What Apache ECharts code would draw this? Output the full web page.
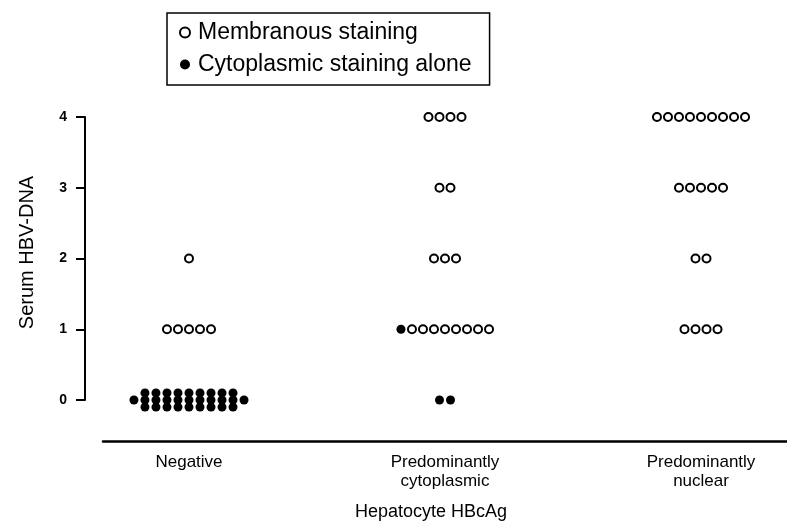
<!DOCTYPE html>
<html>
<head>
<meta charset="utf-8">
<script src="https://cdn.jsdelivr.net/npm/echarts@6/dist/echarts.min.js"></script>
<style>
html,body{margin:0;padding:0;background:#fff;}
#chart{width:787px;height:523px;}
</style>
</head>
<body>
<div id="chart"></div>
<script>
// ---- data ----
const categories = ['Negative', 'Predominantly\ncytoplasmic', 'Predominantly\nnuclear'];
const dnaLevels = [0, 1, 2, 3, 4];
const yTickLabels = ['0', '1', '2', '3', '4'];
// number of patients per category (rows) and serum HBV-DNA level (columns 0..4)
const membranousCounts = [
  [0, 5, 1, 0, 0],
  [0, 8, 3, 2, 4],
  [0, 4, 2, 5, 9]
];
const cytoplasmicAloneCounts = [
  [29, 0, 0, 0, 0],
  [2, 1, 0, 0, 0],
  [0, 0, 0, 0, 0]
];
const seriesNames = ['Membranous staining', 'Cytoplasmic staining alone'];

// ---- dot-plot layout (spread identical values side by side) ----
const DOT_STEP = 0.043;   // horizontal spacing, in category units
const ROW_STEP = 0.1;     // vertical spacing when a group wraps into rows
const MAX_ROW = 11;

const openPts = [], solidPts = [];
categories.forEach((c, ci) => {
  dnaLevels.forEach((lv, li) => {
    const nS = cytoplasmicAloneCounts[ci][li];
    const nO = membranousCounts[ci][li];
    const kinds = [];
    for (let i = 0; i < nS; i++) kinds.push('s');
    for (let i = 0; i < nO; i++) kinds.push('o');
    const total = kinds.length;
    if (!total) return;
    let rows;
    if (total <= MAX_ROW) rows = [{n: total, dy: 0}];
    else {
      const rest = total - MAX_ROW;
      const top = Math.ceil(rest / 2);
      rows = [{n: top, dy: ROW_STEP}, {n: MAX_ROW, dy: 0}, {n: rest - top, dy: -ROW_STEP}];
    }
    let k = 0;
    rows.forEach(r => {
      for (let j = 0; j < r.n; j++) {
        const x = ci + (j - (r.n - 1) / 2) * DOT_STEP;
        const pt = [x, lv + r.dy];
        (kinds[k++] === 's' ? solidPts : openPts).push(pt);
      }
    });
  });
});

const FONT = '"Liberation Sans", Arial, Helvetica, sans-serif';
const chart = echarts.init(document.getElementById('chart'));
chart.setOption({
  animation: false,
  backgroundColor: '#fff',
  textStyle: {fontFamily: FONT, color: '#000'},
  grid: {left: 103, right: 0, top: 117, height: 283, containLabel: false, outerBoundsMode: 'none'},
  legend: {
    orient: 'vertical',
    left: 167, top: 13,
    data: seriesNames,
    borderColor: '#000', borderWidth: 1.5,
    padding: [8, 18, 9, 12],
    itemGap: 9,
    itemWidth: 10, itemHeight: 10,
    textStyle: {fontSize: 23, color: '#000', fontFamily: FONT, padding: [0, 0, 0, 3]}
  },
  xAxis: {
    type: 'value',
    min: -0.3359, max: 2.3359,
    position: 'bottom',
    offset: 41,
    axisLine: {show: true, onZero: false, lineStyle: {color: '#000', width: 2.5}},
    axisTick: {show: false},
    splitLine: {show: false},
    axisLabel: {
      customValues: [0, 1, 2],
      formatter: v => (Number.isInteger(v) && categories[v] !== undefined) ? categories[v] : '',
      fontSize: 17, lineHeight: 19, margin: 12, color: '#000', fontFamily: FONT
    },
    name: 'Hepatocyte HBcAg',
    nameLocation: 'middle',
    nameGap: 62,
    nameTextStyle: {fontSize: 18, color: '#000', fontFamily: FONT, padding: [0, 28, 0, 0]}
  },
  yAxis: {
    type: 'value',
    min: 0, max: 4, interval: 1,
    offset: 18,
    axisLine: {show: true, onZero: false, lineStyle: {color: '#000', width: 2}},
    axisTick: {show: true, length: 9, lineStyle: {color: '#000', width: 2}},
    splitLine: {show: false},
    axisLabel: {
      formatter: v => yTickLabels[dnaLevels.indexOf(v)] ?? '',
      fontSize: 14, fontWeight: 'bold', margin: 18, color: '#000', fontFamily: FONT
    },
    name: 'Serum HBV-DNA',
    nameLocation: 'middle',
    nameGap: 48,
    nameTextStyle: {fontSize: 20, color: '#000', fontFamily: FONT, padding: [0, 0, 0, 12]}
  },
  series: [
    {
      name: seriesNames[0], type: 'scatter', clip: false,
      symbol: 'circle', symbolSize: 8,
      itemStyle: {color: '#fff', borderColor: '#000', borderWidth: 2, opacity: 1},
      data: openPts, z: 2
    },
    {
      name: seriesNames[1], type: 'scatter', clip: false,
      symbol: 'circle', symbolSize: 9,
      itemStyle: {color: '#000', opacity: 1},
      data: solidPts, z: 3
    }
  ]
});
</script>
</body>
</html>
